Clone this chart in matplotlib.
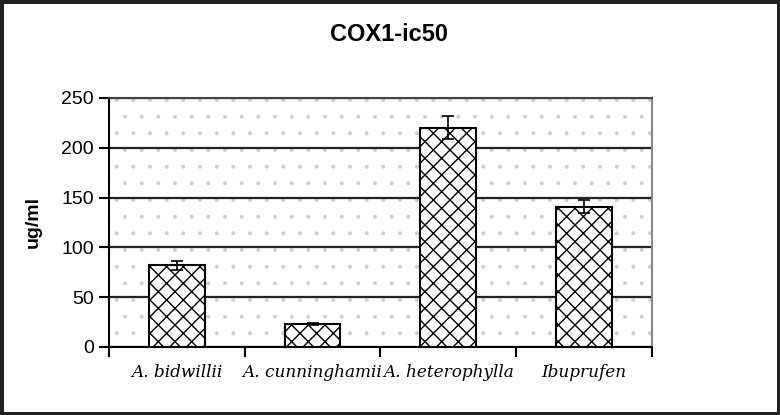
import matplotlib.pyplot as plt
import numpy as np

# data
names = ['A. bidwillii', 'A. cunninghamii', 'A. heterophylla', 'Ibuprufen']
ic50 = [82, 23, 220, 141]
err = [4.5, 1, 11.5, 7]
yticks = [0, 50, 100, 150, 200, 250]

plt.rcParams['hatch.linewidth'] = 1.0

fig = plt.figure(figsize=(7.8, 4.15), dpi=100)
fig.patch.set_edgecolor('#222222')
fig.patch.set_linewidth(5)
ax = fig.add_axes([0.1397, 0.164, 0.696, 0.600])

# dotted background of the plot area
ax.patch.set_facecolor('white')
ax.patch.set_hatch('.')
ax.patch.set_edgecolor('#cccccc')
if hasattr(ax.patch, 'set_hatch_linewidth'):
    ax.patch.set_hatch_linewidth(0.4)

pos = np.arange(len(names))
ax.bar(pos, ic50, width=0.41, color='white', edgecolor='black',
       hatch='xx', linewidth=1.5, zorder=3)
ax.errorbar(pos, ic50, yerr=err, fmt='none', ecolor='black',
            elinewidth=1.2, capsize=4.5, capthick=1.2, zorder=4)

ax.set_xlim(-0.5, len(names) - 0.5)
ax.set_ylim(0, 250)
ax.set_yticks(yticks)
ax.set_yticklabels([str(v) for v in yticks], fontsize=14,
                   family='Liberation Sans')
ax.yaxis.grid(True, color='#222222', linewidth=1.6, zorder=1)
ax.set_axisbelow(True)

# ticks between the categories, labels centred on the bars
ax.set_xticks(np.arange(-0.5, len(names)), minor=False)
ax.set_xticklabels([])
ax.set_xticks(pos, minor=True)
ax.set_xticklabels(names, minor=True, fontsize=12.2,
                   family='DejaVu Serif', style='italic')
ax.tick_params(axis='x', which='minor', length=0, pad=12)
ax.tick_params(axis='x', which='major', length=7, width=1.5)
ax.tick_params(axis='y', length=7, width=1.5, pad=4)

ax.spines['left'].set_linewidth(1.5)
ax.spines['bottom'].set_linewidth(1.5)
ax.spines['top'].set_linewidth(1.5)
ax.spines['top'].set_color('#444444')
ax.spines['right'].set_color('#888888')
ax.spines['right'].set_linewidth(1.5)

ax.set_ylabel('ug/ml', fontsize=14, fontweight='bold',
              family='Liberation Sans', labelpad=14)
fig.text(0.499, 0.918, 'COX1-ic50', ha='center', va='center', fontsize=17,
         fontweight='bold', family='Liberation Sans')

fig.savefig('out.png', dpi=100)
